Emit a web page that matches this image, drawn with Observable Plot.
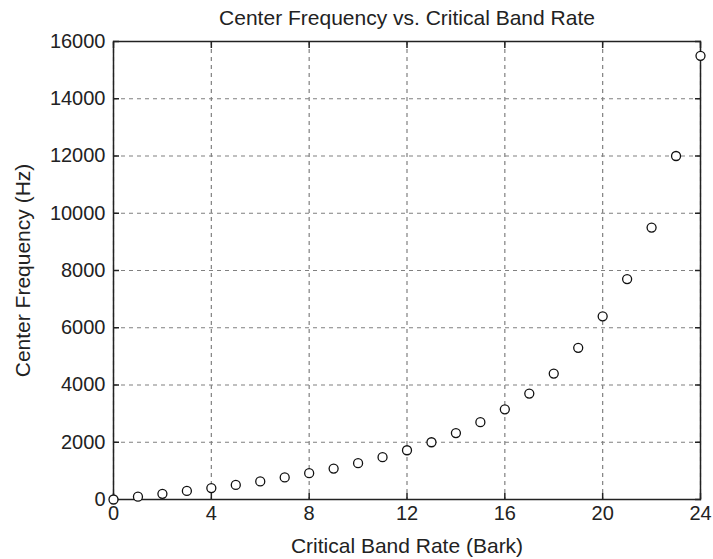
<!DOCTYPE html>
<html>
<head>
<meta charset="utf-8">
<script src="https://cdn.jsdelivr.net/npm/d3@7"></script>
<script src="https://cdn.jsdelivr.net/npm/@observablehq/plot@0.6"></script>
<style>
  html, body { margin: 0; padding: 0; background: #fff; }
</style>
</head>
<body>
<div id="chart"></div>
<script>
const bark = [0, 1, 2, 3, 4, 5, 6, 7, 8, 9, 10, 11, 12, 13, 14, 15, 16, 17, 18, 19, 20, 21, 22, 23, 24];
const centerFreq = [0, 100, 200, 300, 400, 510, 630, 770, 920, 1080, 1270, 1480, 1720, 2000, 2320, 2700, 3150, 3700, 4400, 5300, 6400, 7700, 9500, 12000, 15500];
const xTicks = [0, 4, 8, 12, 16, 20, 24];
const yTicks = [0, 2000, 4000, 6000, 8000, 10000, 12000, 14000, 16000];
const titleText = "Center Frequency vs. Critical Band Rate";
const xLabel = "Critical Band Rate (Bark)";
const yLabel = "Center Frequency (Hz)";

const data = bark.map((b, i) => ({bark: b, freq: centerFreq[i]}));
const ink = "#222";
const font = "'Liberation Sans', Arial, Helvetica, sans-serif";

const chart = Plot.plot({
  width: 713,
  height: 559,
  marginLeft: 113,
  marginRight: 13,
  marginTop: 41,
  marginBottom: 60,
  style: {fontFamily: font, fontSize: "20px", color: ink, background: "#fff"},
  x: {domain: [0, 24], ticks: xTicks},
  y: {domain: [0, 16000], ticks: yTicks},
  marks: [
    Plot.gridX(xTicks, {stroke: "#808080", strokeOpacity: 1, strokeWidth: 1.2, strokeDasharray: "4,4"}),
    Plot.gridY(yTicks, {stroke: "#808080", strokeOpacity: 1, strokeWidth: 1.2, strokeDasharray: "4,4"}),
    Plot.frame({stroke: ink, strokeWidth: 1.5}),
    // inward tick marks on all four sides
    Plot.axisX(xTicks, {anchor: "bottom", tickSize: 6, dy: -6, text: null, label: null, stroke: ink, strokeWidth: 1.5}),
    Plot.axisX(xTicks, {anchor: "top", tickSize: 6, dy: 6, text: null, label: null, stroke: ink, strokeWidth: 1.5}),
    Plot.axisY(yTicks, {anchor: "left", tickSize: 6, dx: 6, text: null, label: null, stroke: ink, strokeWidth: 1.5}),
    Plot.axisY(yTicks, {anchor: "right", tickSize: 6, dx: -6, text: null, label: null, stroke: ink, strokeWidth: 1.5}),
    // tick labels
    Plot.axisX(xTicks, {anchor: "bottom", tickSize: 0, tickPadding: 6, label: null, fontSize: 20, fill: ink, tickFormat: d => String(d)}),
    Plot.axisY(yTicks, {anchor: "left", tickSize: 0, tickPadding: 8, label: null, fontSize: 20, fill: ink, tickFormat: d => String(d)}),
    // data
    Plot.dot(data, {x: "bark", y: "freq", r: 4.5, stroke: "#111", strokeWidth: 1.3, fill: "#fff"}),
    // titles
    Plot.text([titleText], {frameAnchor: "top", dy: -23, fontSize: 21, fill: ink, textAnchor: "middle", lineAnchor: "middle"}),
    Plot.text([xLabel], {frameAnchor: "bottom", dy: 47, fontSize: 21, fill: ink, textAnchor: "middle", lineAnchor: "middle"}),
    Plot.text([yLabel], {frameAnchor: "left", dx: -90, rotate: -90, fontSize: 21, fill: ink, textAnchor: "middle", lineAnchor: "middle"})
  ]
});
document.getElementById("chart").appendChild(chart);
</script>
</body>
</html>
